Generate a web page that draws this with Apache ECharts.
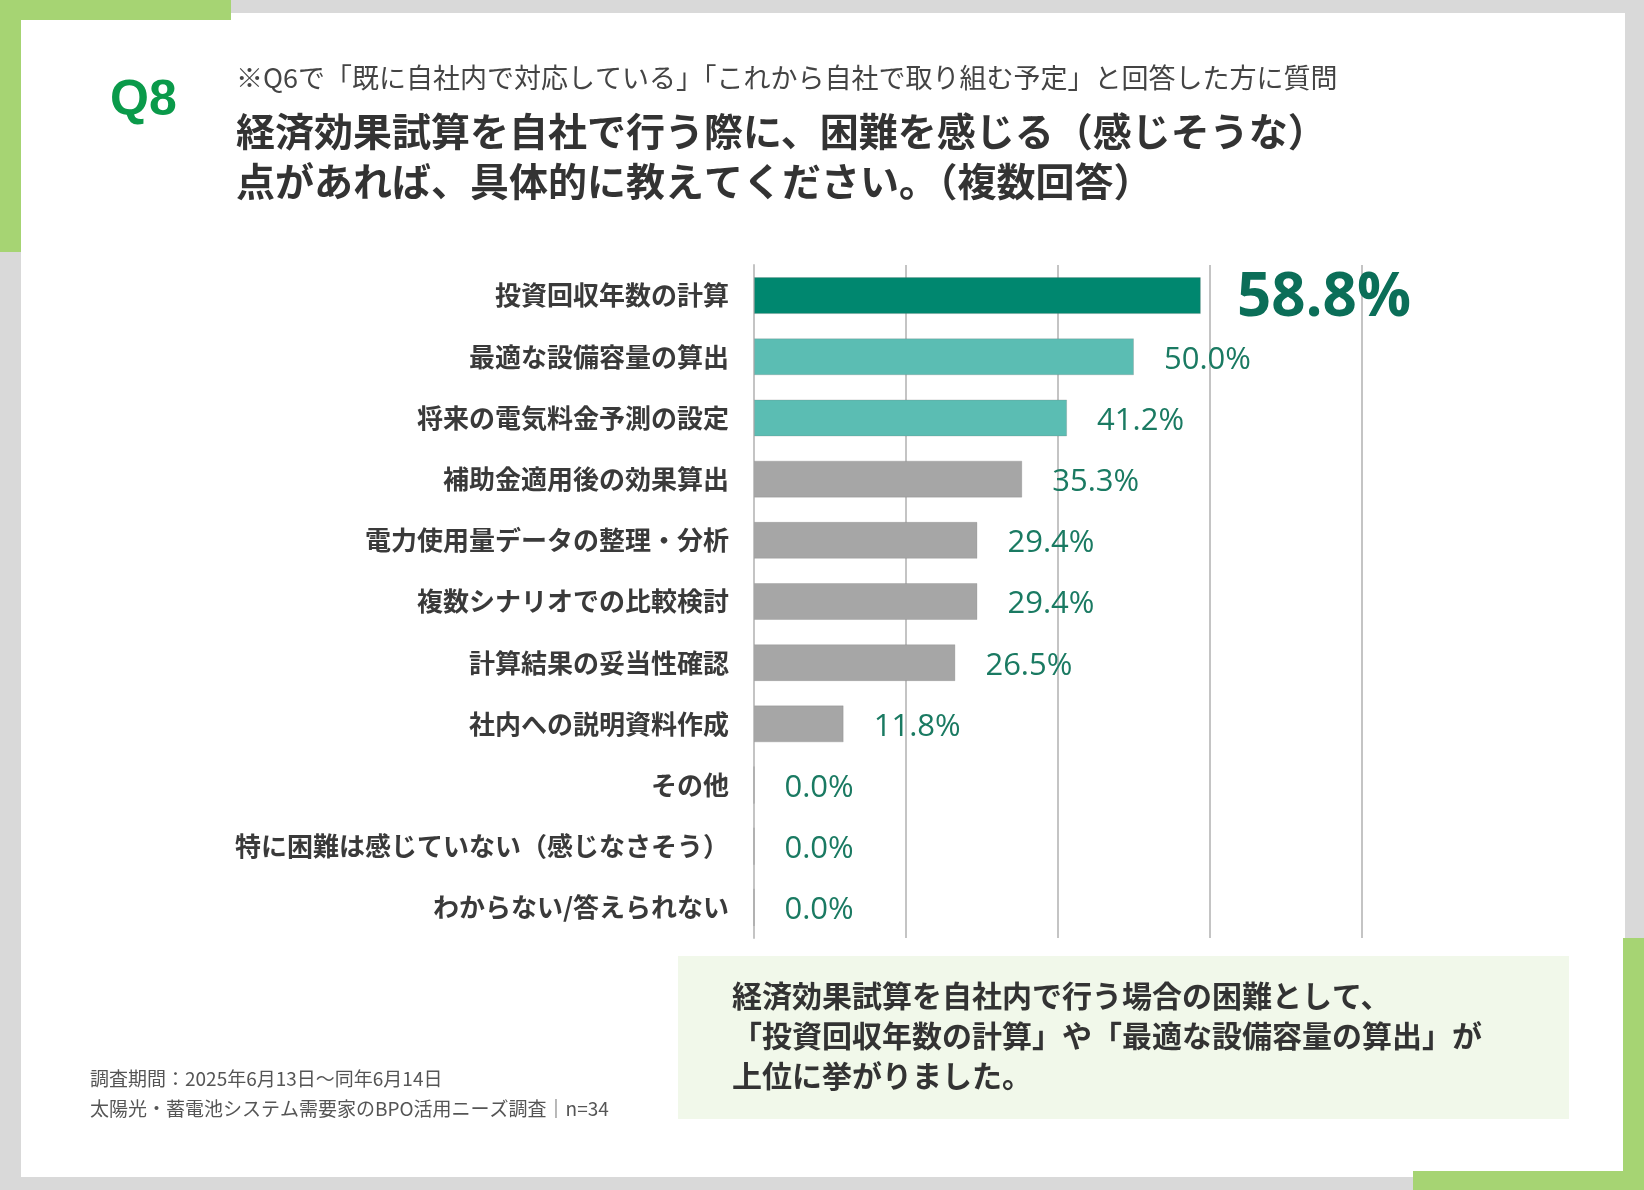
<!DOCTYPE html>
<html>
<head>
<meta charset="utf-8">
<script src="https://cdn.jsdelivr.net/npm/echarts@6/dist/echarts.min.js"></script>
<style>
  html, body { margin: 0; padding: 0; background: #d9d9d9; }
  #chart { width: 1644px; height: 1190px; }
</style>
</head>
<body>
<div id="chart"></div>
<script>
// 項目（上から順）
var categories = [
  "投資回収年数の計算",
  "最適な設備容量の算出",
  "将来の電気料金予測の設定",
  "補助金適用後の効果算出",
  "電力使用量データの整理・分析",
  "複数シナリオでの比較検討",
  "計算結果の妥当性確認",
  "社内への説明資料作成",
  "その他",
  "特に困難は感じていない（感じなさそう）",
  "わからない/答えられない"
];
var values = [58.8, 50.0, 41.2, 35.3, 29.4, 29.4, 26.5, 11.8, 0.0, 0.0, 0.0];
var barColors = ["#00876f", "#5bbdb3", "#5bbdb3", "#a6a6a6", "#a6a6a6", "#a6a6a6",
  "#a6a6a6", "#a6a6a6", "#a6a6a6", "#a6a6a6", "#a6a6a6"];
var xTicks = [0, 20, 40, 60, 80];

var font = "'Noto Sans CJK JP', 'Noto Sans', sans-serif";
var mychart = echarts.init(document.getElementById("chart"));

var seriesData = values.map(function (v, i) {
  var item = { value: v, itemStyle: { color: barColors[i] } };
  if (i === 0) {
    item.label = { fontSize: 60, fontWeight: "bold", distance: 36, color: "#0b6e58" };
  }
  return item;
});

var option = {
  backgroundColor: "#d9d9d9",
  animation: false,
  grid: { left: 754, right: 282, top: 265, bottom: 252 },
  xAxis: {
    type: "value",
    min: xTicks[0],
    max: xTicks[xTicks.length - 1],
    interval: 20,
    axisLabel: { show: false },
    axisLine: { show: false },
    axisTick: { show: false },
    splitLine: { show: true, lineStyle: { color: "#c4c4c4", width: 2 } }
  },
  yAxis: {
    type: "category",
    inverse: true,
    data: categories,
    axisLine: { show: true, lineStyle: { color: "#c4c4c4", width: 2 } },
    axisTick: { show: false },
    axisLabel: {
      margin: 25,
      fontSize: 26,
      fontWeight: "bold",
      color: "#3a3a3a",
      fontFamily: font
    }
  },
  series: [
    {
      type: "bar",
      barWidth: 37,
      data: seriesData,
      itemStyle: { borderColor: "rgba(120,120,120,0.25)", borderWidth: 1 },
      label: {
        show: true,
        position: "right",
        distance: 30,
        offset: [0, 3],
        formatter: function (p) { return p.value.toFixed(1) + "%"; },
        fontSize: 31,
        fontWeight: 500,
        color: "#1a7a62",
        fontFamily: "'Open Sans', sans-serif"
      }
    }
  ],
  graphic: [
    { type: "rect", z: -10, shape: { x: 21, y: 13, width: 1604, height: 1164 }, style: { fill: "#ffffff" } },
    { type: "rect", z: -5, shape: { x: 0, y: 0, width: 231, height: 20 }, style: { fill: "#a6d473" } },
    { type: "rect", z: -5, shape: { x: 0, y: 0, width: 21, height: 252 }, style: { fill: "#a6d473" } },
    { type: "rect", z: -5, shape: { x: 1623, y: 938, width: 21, height: 252 }, style: { fill: "#a6d473" } },
    { type: "rect", z: -5, shape: { x: 1413, y: 1171, width: 231, height: 19 }, style: { fill: "#a6d473" } },
    { type: "text", left: 110, top: 76, style: { text: "Q8", fontSize: 50, fontWeight: "bold", fill: "#0a9a4a", fontFamily: "'Liberation Sans', sans-serif" } },
    { type: "text", left: 236, top: 64, style: { text: "※Q6で「既に自社内で対応している」「これから自社で取り組む予定」と回答した方に質問", fontSize: 27, fill: "#444", fontFamily: font } },
    { type: "text", left: 236, top: 106, style: { text: "経済効果試算を自社で行う際に、困難を感じる（感じそうな）\n点があれば、具体的に教えてください。（複数回答）", fontSize: 39, lineHeight: 50, fontWeight: "bold", fill: "#333", fontFamily: font } },
    { type: "rect", z: -4, shape: { x: 678, y: 956, width: 891, height: 163 }, style: { fill: "#f1f8ea" } },
    { type: "text", left: 732, top: 976, style: { text: "経済効果試算を自社内で行う場合の困難として、\n「投資回収年数の計算」や「最適な設備容量の算出」が\n上位に挙がりました。", fontSize: 30, lineHeight: 40, fontWeight: "bold", fill: "#333", fontFamily: font } },
    { type: "text", left: 90, top: 1064, style: { text: "調査期間：2025年6月13日～同年6月14日\n太陽光・蓄電池システム需要家のBPO活用ニーズ調査｜n=34", fontSize: 19, lineHeight: 30, fill: "#555", fontFamily: font } }
  ]
};
mychart.setOption(option);
</script>
</body>
</html>
